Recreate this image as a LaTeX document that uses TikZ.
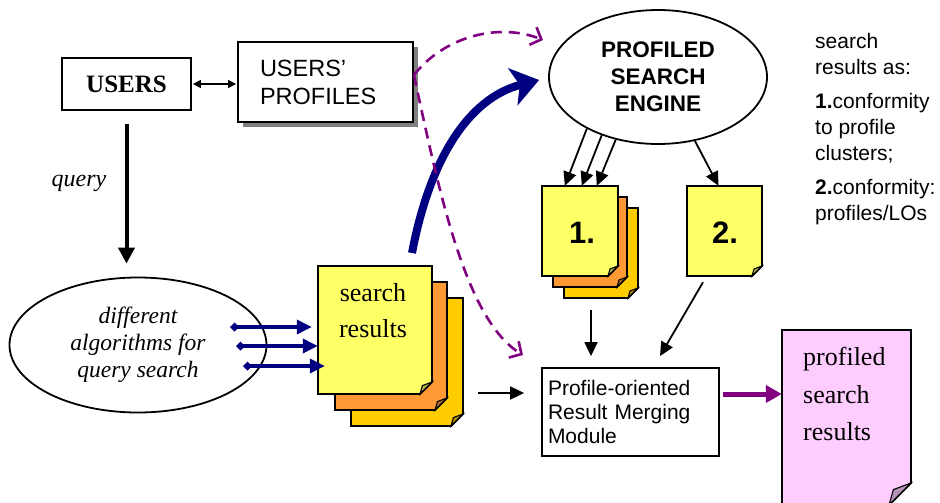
\documentclass[tikz,border=0pt]{standalone}
\usepackage{fontspec}
\setmainfont{Liberation Serif}
\setsansfont{Liberation Sans}
\usetikzlibrary{arrows.meta,shapes.geometric,shadows,calc}

\definecolor{pageyellow}{HTML}{FFFF66}
\definecolor{pageorange}{HTML}{FF9933}
\definecolor{pagegold}{HTML}{FFCC00}
\definecolor{pagepink}{HTML}{FFCCFF}
\definecolor{navyblue}{HTML}{000080}
\definecolor{deeppurple}{HTML}{800080}
\definecolor{shadowgray}{HTML}{808080}

% folded-corner document: name, x1, y1, x2, y2, fill, fold size
\newcommand\docpage[7]{%
  \draw[pageline,fill=#6] (#2,#3) -- (#4,#3) -- (#4,{#5-#7}) -- ({#4-#7},#5) -- (#2,#5) -- cycle;
  \draw[pageline,line width=1.1pt,fill=#6!72!black] ({#4-#7},#5) -- (#4,{#5-#7}) -- ({#4-0.8*#7},{#5-0.7*#7}) -- cycle;
  \node[inner sep=0pt,minimum width={(#4-#2)*1pt},minimum height={(#5-#3)*1pt}] (#1) at ({(#2+#4)/2},{(#3+#5)/2}) {};
}

\begin{document}
\begin{tikzpicture}[x=1pt,y=-1pt,
  pageline/.style={draw=black,line width=1.8pt,line join=miter},
  plainbox/.style={draw=black,line width=1.8pt,fill=white},
  thinarrow/.style={draw=black,line width=1.8pt,-{Triangle[length=14pt,width=13pt]}},
  queryarrow/.style={draw=black,line width=4pt,-{Triangle[length=16pt,width=16pt]}},
  biarrow/.style={draw=black,line width=1.4pt,{Triangle[length=8pt,width=8pt]}-{Triangle[length=8pt,width=8pt]}},
  bluearrow/.style={draw=navyblue,line width=3.5pt,{Diamond[length=9pt,width=9pt]}-{Triangle[length=15pt,width=14pt]}},
  bigblue/.style={draw=navyblue,line width=8pt,-{Stealth[length=27pt,width=38pt,inset=7pt]}},
  purpledash/.style={draw=deeppurple,line width=2.6pt,dash pattern=on 11pt off 7pt,-{Straight Barb[length=9pt,width=19pt,line width=2.6pt]}},
  purplearrow/.style={draw=deeppurple,line width=5pt,-{Triangle[length=16pt,width=17pt]}},
]
\useasboundingbox (0,0) rectangle (940,503);

% main blocks
\node[plainbox,minimum width=129pt,minimum height=52pt,inner sep=0pt,
      font=\bfseries\fontsize{25}{30}\selectfont] (users) at (126.5,84) {USERS};

\node[plainbox,minimum height=80pt,text width=131pt,inner xsep=22pt,align=left,
      general shadow={fill=shadowgray,shadow xshift=5pt,shadow yshift=-5pt},
      font=\sffamily\fontsize{23.5}{28}\selectfont] (profiles) at (325.5,82) {USERS'\\PROFILES};

\node[ellipse,draw=black,line width=1.8pt,minimum width=257pt,minimum height=135pt,inner sep=0pt,
      align=center,font=\itshape\fontsize{23.5}{27}\selectfont] (algo) at (138,345)
      {different\\algorithms for\\query search};

\node[ellipse,draw=black,line width=1.8pt,fill=white,minimum width=218pt,minimum height=134pt,inner sep=0pt,
      align=center,font=\sffamily\bfseries\fontsize{22.5}{27}\selectfont] (engine) at (658,77)
      {PROFILED\\SEARCH\\ENGINE};

\node[plainbox,minimum height=88pt,text width=165pt,inner xsep=6pt,align=left,
      font=\sffamily\fontsize{21}{24}\selectfont] (merge) at (630.5,412)
      {Profile-oriented\\Result Merging\\Module};

\node[anchor=north west,inner sep=0pt,align=left,font=\sffamily\fontsize{21}{26}\selectfont] (legend) at (815,33)
      {search\\results as:\\[8pt]\textbf{1.}conformity\\to profile\\clusters;\\[8pt]\textbf{2.}conformity:\\profiles/LOs};

\node[font=\itshape\fontsize{24}{28}\selectfont] (query) at (79,183) {query};

% stack of search results
\docpage{srC}{351}{298}{463}{426}{pagegold}{12}
\docpage{srB}{335}{282}{447}{410}{pageorange}{12}
\docpage{srA}{318}{266}{432}{394}{pageyellow}{12}
\node[anchor=north,inner sep=0pt,align=center,font=\fontsize{26}{36.5}\selectfont] (srtext) at (373,283) {search\\results};

% results of kind 1 (stack) and kind 2
\docpage{pC}{564}{208}{638}{298}{pagegold}{10}
\docpage{pB}{553}{197}{627}{287}{pageorange}{10}
\docpage{pA}{542}{186}{618}{276}{pageyellow}{10}
\node[font=\sffamily\bfseries\fontsize{31}{36}\selectfont] (one) at (582,233) {1.};

\docpage{pD}{687}{186}{762}{276}{pageyellow}{10}
\node[font=\sffamily\bfseries\fontsize{31}{36}\selectfont] (two) at (725,233) {2.};

% final profiled results
\begin{scope}
  \clip (0,0) rectangle (940,503);
  \docpage{final}{782}{330}{911}{505}{pagepink}{22}
\end{scope}
\node[anchor=north west,inner sep=0pt,align=left,font=\fontsize{26}{37.5}\selectfont] (finaltext) at (803,347)
      {profiled\\search\\results};

% connectors
\draw[biarrow] ([xshift=1pt]users.east) -- ([xshift=-1pt]users.east -| profiles.west);
\draw[queryarrow] ([yshift=-13pt]users.south) -- ([yshift=13pt]users.south |- algo.north);

\coordinate (t1) at (230,327);
\coordinate (t2) at (236,346);
\coordinate (t3) at (243,366);
\draw[bluearrow] (t1) -- ([xshift=-6pt]t1 -| srA.west);
\draw[bluearrow] (t2) -- (t2 -| srA.west);
\draw[bluearrow] (t3) -- ([xshift=7pt]t3 -| srA.west);

\coordinate (bbstart) at (412,253);
\draw[bigblue] (bbstart) .. controls +(18,-95) and +(-70,18) .. ([xshift=-9pt,yshift=-3pt]engine.west);

\coordinate (dashA) at (543,40);
\coordinate (dashB) at (523,355);
\draw[purpledash] ([yshift=7pt]profiles.east) .. controls +(30,-38) and +(-45,-18) .. (dashA);
\draw[purpledash] ([yshift=7pt]profiles.east) .. controls +(25,115) and +(-58,-35) .. (dashB);

\draw[thinarrow] (engine.216) -- ($(pA.north west)+(23,0)$);
\draw[thinarrow] (engine.226) -- ($(pA.north west)+(40,0)$);
\draw[thinarrow] (engine.236) -- ($(pA.north west)+(55,0)$);
\draw[thinarrow] (engine.300) -- ($(pD.north)+(-6,0)$);

\coordinate (m1) at (591,310);
\draw[thinarrow] (m1) -- ([yshift=11pt]m1 |- merge.north);
\draw[thinarrow] ($(pD.south)+(-21.5,6)$) -- ($(merge.north)+(29.5,-11)$);

\coordinate (srout) at (478,393);
\draw[thinarrow] (srout) -- ([xshift=-17pt]srout -| merge.west);

\coordinate (mout) at (723,394);
\draw[purplearrow] (mout) -- (mout -| final.west);
\end{tikzpicture}
\end{document}
